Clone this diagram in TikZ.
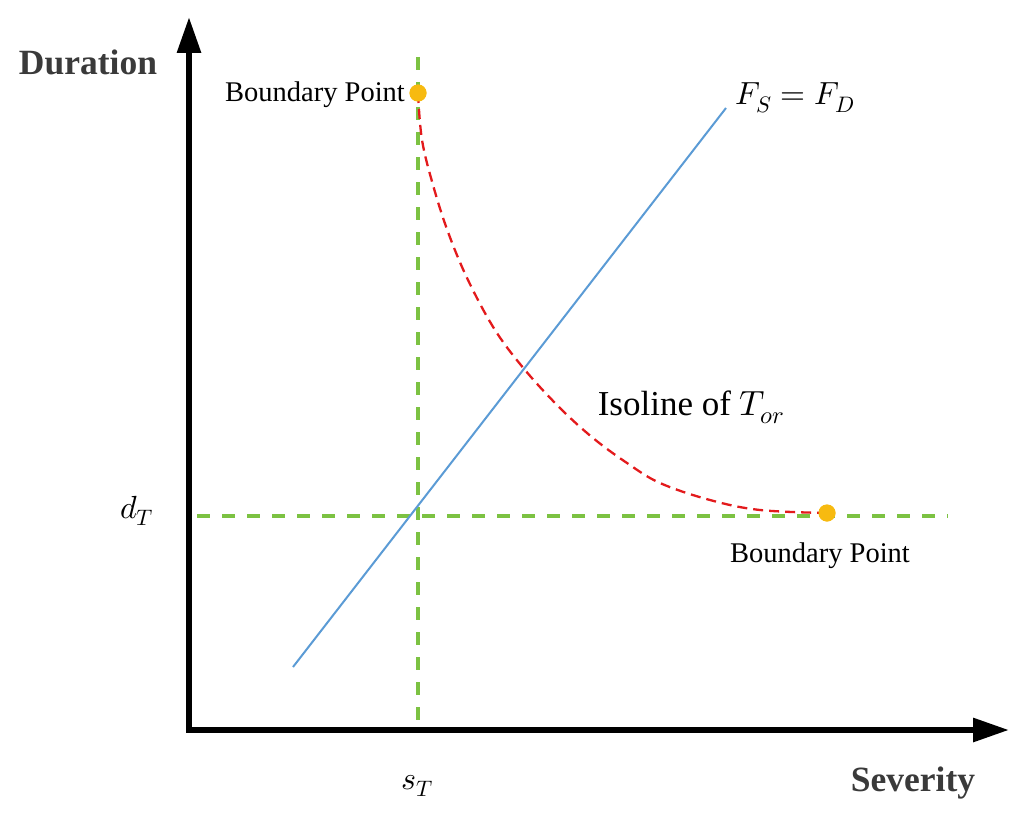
\documentclass[tikz,border=0pt]{standalone}
\usepackage{fontspec}
\usepackage{unicode-math}
\setmainfont{Liberation Serif}
\setmathfont{Latin Modern Math}
\usetikzlibrary{arrows.meta}
\definecolor{gline}{HTML}{7CC242}
\definecolor{bline}{HTML}{5B9BD5}
\definecolor{rline}{HTML}{E31A1C}
\definecolor{dotc}{HTML}{F7BA10}
\definecolor{axlab}{HTML}{3A3A3A}
\begin{document}
\begin{tikzpicture}[x=1pt,y=-1pt,
  axisline/.style={line width=6pt,line join=miter,black},
  guide/.style={gline,line width=4pt,dash pattern=on 13pt off 12pt},
  fsfd/.style={bline,line width=2pt},
  isoline/.style={rline,line width=2.3pt,dash pattern=on 10pt off 6pt},
  bdot/.style={circle,fill=dotc,inner sep=0pt,minimum size=17pt},
  axlabel/.style={font=\fontsize{35.5}{40}\selectfont\bfseries,text=axlab,inner sep=0pt},
  bplabel/.style={font=\fontsize{28.5}{32}\selectfont,inner sep=0pt,anchor=base},
  mathlabel/.style={font=\fontsize{32}{36}\selectfont,inner sep=0pt,anchor=base}]
\useasboundingbox (0,0) rectangle (1033,824);
% axes
\coordinate (O) at (189,730);
\coordinate (Ytip) at (189,17);
\coordinate (Xtip) at (1009,730);
\draw[axisline,{Triangle[length=36pt,width=23pt]}-{Triangle[length=36pt,width=23pt]}] (Ytip) -- (O) -- (Xtip);
\node[axlabel] (dur) at (88,62) {Duration};
\node[axlabel] (sev) at (913,783) {Severity};
% guide lines
\coordinate (vtop) at (418,57);
\coordinate (vbot) at (418,726);
\coordinate (hleft) at (197,516);
\coordinate (hright) at (948,516);
\draw[guide] (vtop) -- (vbot);
\draw[guide] (hleft) -- (hright);
% F_S = F_D line
\coordinate (b1) at (293,667);
\coordinate (b2) at (726,108);
\draw[fsfd] (b1) -- (b2);
% isoline
\node[bdot] (p1) at (418,93) {};
\node[bdot] (p2) at (827,513) {};
\draw[isoline] plot[smooth,tension=0.6] coordinates {(418,93) (422,140) (433,185) (448,232) (468,280) (495,330) (525,370) (560,408) (593,438) (627,463) (660,483) (710,500) (760,510) (827,513)};
\node[bdot] at (p1) {};
\node[bdot] at (p2) {};
% labels
\node[bplabel] (bp1) at (315,102) {Boundary Point};
\node[bplabel] (bp2) at (820,562) {Boundary Point};
\node[mathlabel] (fl) at (795,105) {$F_S = F_D$};
\node[font=\fontsize{35}{40}\selectfont,inner sep=0pt,anchor=base] (iso) at (691,415) {Isoline of $T_{or}$};
\node[mathlabel] (dT) at (137,518) {$d_T$};
\node[mathlabel] (sT) at (417,789) {$s_T$};
\end{tikzpicture}
\end{document}
